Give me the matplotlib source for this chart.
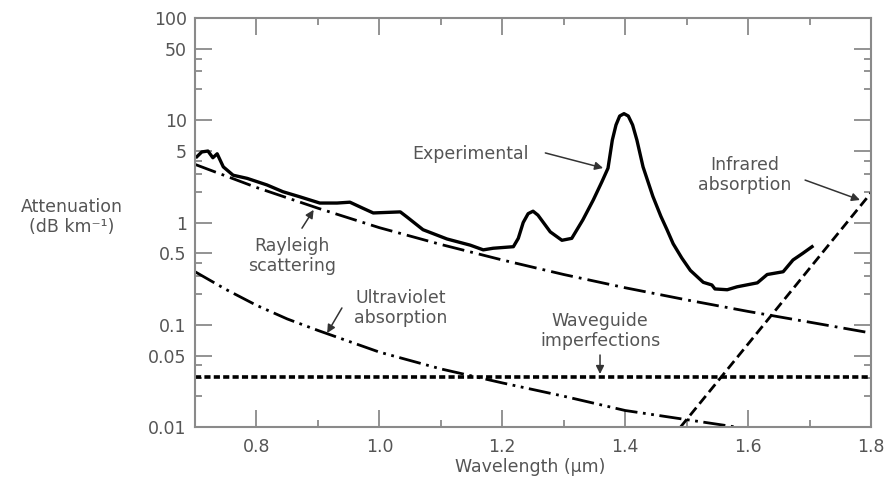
import matplotlib
matplotlib.use("Agg")
import matplotlib.pyplot as plt
import numpy as np

# wavelength (um) and attenuation (dB/km)
exp_wl = [0.703, 0.711, 0.721, 0.729, 0.736, 0.746, 0.762, 0.785, 0.817, 0.843,
          0.871, 0.903, 0.931, 0.952, 0.973, 0.990, 1.034, 1.045, 1.071, 1.110,
          1.148, 1.169, 1.185, 1.218, 1.226, 1.234, 1.242, 1.250, 1.258, 1.278,
          1.297, 1.313, 1.331, 1.348, 1.362, 1.372, 1.379, 1.385, 1.391, 1.398,
          1.405, 1.412, 1.419, 1.429, 1.445, 1.458, 1.468, 1.478, 1.492, 1.506,
          1.527, 1.541, 1.546, 1.566, 1.582, 1.615, 1.631, 1.657, 1.673, 1.689,
          1.704]
exp_att = [4.4, 4.9, 5.0, 4.3, 4.7, 3.5, 2.9, 2.7, 2.33, 2.0,
           1.78, 1.55, 1.55, 1.58, 1.38, 1.24, 1.27, 1.13, 0.85, 0.69,
           0.60, 0.54, 0.56, 0.58, 0.70, 1.0, 1.22, 1.29, 1.18, 0.81,
           0.67, 0.70, 1.06, 1.66, 2.5, 3.4, 6.4, 9.0, 11.0, 11.6,
           11.0, 9.0, 6.4, 3.5, 1.8, 1.15, 0.85, 0.62, 0.45, 0.34,
           0.26, 0.245, 0.224, 0.22, 0.235, 0.257, 0.31, 0.33, 0.43, 0.50,
           0.58]

ray_wl = [0.7, 0.8, 0.9, 1.0, 1.1, 1.2, 1.3, 1.4, 1.5, 1.6, 1.7, 1.8]
ray_att = [3.7, 2.2, 1.38, 0.89, 0.61, 0.43, 0.31, 0.23, 0.175, 0.135, 0.106, 0.083]

uv_wl = [0.7, 0.75, 0.8, 0.85, 0.9, 1.0, 1.1, 1.2, 1.3, 1.4, 1.5, 1.58]
uv_att = [0.33, 0.222, 0.155, 0.114, 0.088, 0.054, 0.037, 0.027, 0.020, 0.0145, 0.0118, 0.01]

ir_wl = [1.49, 1.8]
ir_att = [0.01, 1.95]

wg_wl = [0.7, 1.8]
wg_att = [0.031, 0.031]

ytick_vals = [0.01, 0.05, 0.1, 0.5, 1, 5, 10, 50, 100]
ytick_labels = ['0.01', '0.05', '0.1', '0.5', '1', '5', '10', '50', '100']
yminor_vals = [0.02, 0.03, 0.04, 0.2, 0.3, 0.4, 2, 3, 4, 20, 30, 40]
xtick_vals = [0.8, 1.0, 1.2, 1.4, 1.6, 1.8]
xtick_labels = ['0.8', '1.0', '1.2', '1.4', '1.6', '1.8']
xminor_vals = [0.9, 1.1, 1.3, 1.5, 1.7]

grey = '#555555'
spine_c = '#8a8a8a'
fs = 12.5

fig = plt.figure(figsize=(8.91, 4.80), dpi=100)
ax = fig.add_axes([0.2189, 0.1104, 0.7587, 0.8521])

ax.plot(exp_wl, exp_att, color='black', lw=2.4, solid_joinstyle='round')
ax.plot(ray_wl, ray_att, color='black', lw=2.0, linestyle=(0, (8, 2.2, 1, 2.2)))
ax.plot(uv_wl, uv_att, color='black', lw=2.0, linestyle=(0, (8, 2, 1, 2, 1, 2)))
ax.plot(ir_wl, ir_att, color='black', lw=2.0, linestyle=(0, (3.6, 1.8)))
ax.plot(wg_wl, wg_att, color='black', lw=2.6, linestyle=(0, (1.7, 0.9)))

ax.set_yscale('log')
ax.set_xlim(0.7, 1.8)
ax.set_ylim(0.01, 100)

ax.set_yticks(ytick_vals)
ax.set_yticklabels(ytick_labels)
ax.set_yticks(yminor_vals, minor=True)
ax.yaxis.set_minor_formatter(matplotlib.ticker.NullFormatter())
ax.set_xticks(xtick_vals)
ax.set_xticklabels(xtick_labels)
ax.set_xticks(xminor_vals, minor=True)

ax.tick_params(which='both', direction='in', top=True, right=True,
               color=spine_c, width=1.3, labelcolor=grey, labelsize=fs)
ax.tick_params(which='major', length=12)
ax.tick_params(which='minor', length=5)
ax.tick_params(axis='y', which='major', pad=6)
ax.tick_params(axis='x', which='major', pad=8)
for s in ax.spines.values():
    s.set_color(spine_c)
    s.set_linewidth(1.5)

# annotations
txt = dict(color=grey, fontsize=fs, ha='center', va='center', linespacing=1.15)
arr = dict(arrowstyle='-|>', color='#333333', lw=1.1, mutation_scale=12, shrinkA=0, shrinkB=0)

ax.text(1.1475, 4.68, 'Experimental', **txt)
ax.annotate('', xy=(1.364, 3.41), xytext=(1.27, 4.79), arrowprops=arr)

ax.text(0.858, 0.47, 'Rayleigh\nscattering', **txt)
ax.annotate('', xy=(0.893, 1.33), xytext=(0.874, 0.88), arrowprops=arr)

ax.text(1.035, 0.147, 'Ultraviolet\nabsorption', **txt)
ax.annotate('', xy=(0.915, 0.083), xytext=(0.939, 0.146), arrowprops=arr)

ax.text(1.359, 0.087, 'Waveguide\nimperfections', **txt)
ax.annotate('', xy=(1.359, 0.033), xytext=(1.359, 0.0506), arrowprops=arr)

ax.text(1.595, 2.91, 'Infrared\nabsorption', **txt)
ax.annotate('', xy=(1.782, 1.66), xytext=(1.6927, 2.6), arrowprops=arr)

fig.text(72 / 891, 1 - 217 / 480, 'Attenuation\n(dB km\u207b\u00b9)', color=grey,
         fontsize=fs, ha='center', va='center', linespacing=1.2)
fig.text(530 / 891, 1 - 467 / 480, 'Wavelength (\u00b5m)', color=grey,
         fontsize=fs, ha='center', va='center')

fig.savefig('out.png', dpi=100)
